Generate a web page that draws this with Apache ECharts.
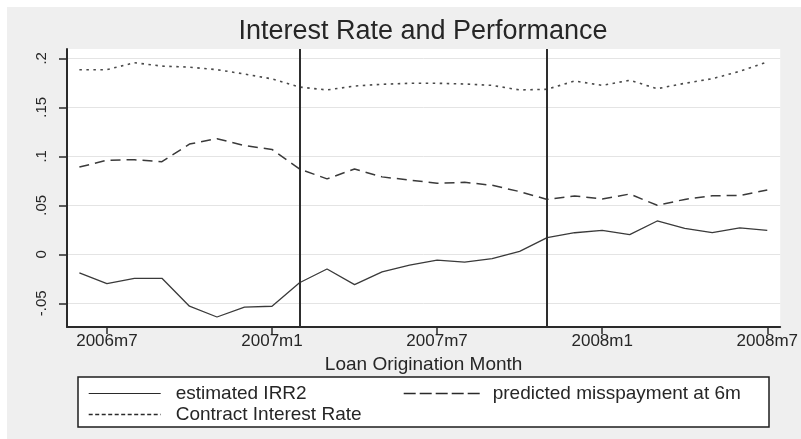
<!DOCTYPE html>
<html>
<head>
<meta charset="utf-8">
<script src="https://cdn.jsdelivr.net/npm/echarts@6.0.0/dist/echarts.min.js"></script>
<style>
  html, body { margin: 0; padding: 0; background: #ffffff; }
  #chart { width: 801px; height: 439px; }
</style>
</head>
<body>
<div id="chart"></div>
<script>
// Loan origination months, 2006m6 .. 2008m7
const months = [
  "2006m6", "2006m7", "2006m8", "2006m9", "2006m10", "2006m11", "2006m12",
  "2007m1", "2007m2", "2007m3", "2007m4", "2007m5", "2007m6", "2007m7",
  "2007m8", "2007m9", "2007m10", "2007m11", "2007m12",
  "2008m1", "2008m2", "2008m3", "2008m4", "2008m5", "2008m6", "2008m7"
];

const irr2 = [
  -0.019, -0.030, -0.0245, -0.0245, -0.053, -0.064, -0.054,
  -0.053, -0.029, -0.015, -0.031, -0.018, -0.011, -0.006,
  -0.008, -0.0045, 0.003, 0.017, 0.022,
  0.0245, 0.020, 0.034, 0.0265, 0.022, 0.027, 0.0245
];

const misspayment6m = [
  0.089, 0.096, 0.0965, 0.0945, 0.1125, 0.118, 0.111,
  0.107, 0.087, 0.077, 0.087, 0.079, 0.0758, 0.0724,
  0.0735, 0.0704, 0.064, 0.056, 0.0595,
  0.0564, 0.0615, 0.050, 0.056, 0.0598, 0.060, 0.0656
];

const contractRate = [
  0.1884, 0.1884, 0.1955, 0.192, 0.191, 0.1884, 0.184,
  0.179, 0.1707, 0.1677, 0.1717, 0.1735, 0.1745, 0.1745,
  0.1738, 0.1724, 0.1677, 0.1684, 0.1768,
  0.1724, 0.1776, 0.169, 0.1745, 0.1792, 0.1867, 0.1962
];

// Months marked with vertical reference lines
const eventMonths = ["2007m2", "2007m11"];

// Axis ticks and their labels
const xTickLabels = ["2006m7", "2007m1", "2007m7", "2008m1", "2008m7"];
const yTicks = [-0.05, 0, 0.05, 0.1, 0.15, 0.2];
const yTickLabels = ["-.05", "0", ".05", ".1", ".15", ".2"];

const seriesNames = ["estimated IRR2", "predicted misspayment at 6m", "Contract Interest Rate"];

// Stata-style monthly date: months since 1960m1
function monthNum(s) {
  const parts = s.split("m").map(Number);
  return (parts[0] - 1960) * 12 + parts[1] - 1;
}

const xTicks = xTickLabels.map(monthNum);
const pairs = (vals) => months.map((m, i) => [monthNum(m), vals[i]]);

const FONT = "'Liberation Sans', Arial, sans-serif";
const INK = "#262626";
// legend keys show only the line pattern, no marker
const noMarker = { opacity: 0, color: "transparent", borderWidth: 0 };

const chart = echarts.init(document.getElementById("chart"), null, { renderer: "canvas" });

chart.setOption({
  animation: false,
  backgroundColor: "#ffffff",
  textStyle: { fontFamily: FONT },
  title: {
    text: "Interest Rate and Performance",
    left: 423,
    top: 18,
    textAlign: "center",
    padding: 0,
    textStyle: { fontFamily: FONT, fontSize: 27, fontWeight: "normal", color: INK }
  },
  graphic: [
    {
      type: "rect",
      z: -5,
      silent: true,
      shape: { x: 7, y: 7, width: 794, height: 432 },
      style: { fill: "#efefef" }
    },
    {
      type: "rect",
      z: 1,
      silent: true,
      shape: { x: 78, y: 377, width: 691, height: 50 },
      style: { fill: "#ffffff", stroke: "#1e1e1e", lineWidth: 1.5 }
    }
  ],
  legend: [
    {
      z: 6,
      orient: "vertical",
      left: 88,
      top: 384,
      padding: 0,
      itemWidth: 72,
      itemHeight: 14,
      itemGap: 2,
      data: [
        { name: seriesNames[0], itemStyle: noMarker, lineStyle: { type: "solid", width: 1.2, color: "#2a2a2a" } },
        { name: seriesNames[2], itemStyle: noMarker, lineStyle: { type: [4, 2.5], width: 1.4, color: "#2a2a2a" } }
      ],
      textStyle: { fontFamily: FONT, fontSize: 19, color: INK, padding: [0, 0, 0, 10] }
    },
    {
      z: 6,
      orient: "horizontal",
      left: 403,
      top: 384,
      padding: 0,
      itemWidth: 77,
      itemHeight: 14,
      data: [
        { name: seriesNames[1], itemStyle: noMarker, lineStyle: { type: [12, 4], width: 1.4, color: "#2a2a2a" } }
      ],
      textStyle: { fontFamily: FONT, fontSize: 19, color: INK, padding: [0, 0, 0, 7] }
    }
  ],
  grid: {
    left: 67,
    right: 19,
    top: 49,
    bottom: 112,
    containLabel: false,
    show: true,
    backgroundColor: "#ffffff",
    borderWidth: 0
  },
  xAxis: {
    type: "value",
    min: 556.55,
    max: 582.47,
    name: "Loan Origination Month",
    nameLocation: "middle",
    nameGap: 22,
    nameTextStyle: { fontFamily: FONT, fontSize: 19, color: INK },
    axisLine: { show: true, onZero: false, lineStyle: { color: "#2a2a2a", width: 2 } },
    axisTick: { show: true, length: 7, customValues: xTicks, lineStyle: { color: "#2a2a2a", width: 1.5 } },
    axisLabel: {
      show: true,
      margin: 6,
      customValues: xTicks,
      fontFamily: FONT,
      fontSize: 17,
      color: INK,
      formatter: (v) => {
        const i = xTicks.findIndex((t) => Math.abs(t - v) < 1e-6);
        return i >= 0 ? xTickLabels[i] : "";
      }
    },
    splitLine: { show: false }
  },
  yAxis: {
    type: "value",
    min: -0.0742,
    max: 0.2095,
    axisLine: { show: true, onZero: false, lineStyle: { color: "#2a2a2a", width: 2 } },
    axisTick: { show: true, length: 8, customValues: yTicks, lineStyle: { color: "#2a2a2a", width: 1.5 } },
    axisLabel: {
      show: true,
      rotate: 90,
      margin: 18,
      customValues: yTicks,
      fontFamily: FONT,
      fontSize: 15,
      color: INK,
      formatter: (v) => {
        const i = yTicks.findIndex((t) => Math.abs(t - v) < 1e-9);
        return i >= 0 ? yTickLabels[i] : "";
      }
    },
    splitLine: { show: true, lineStyle: { color: "#e4e4e4", width: 1 } }
  },
  series: [
    {
      name: seriesNames[0],
      type: "line",
      data: pairs(irr2),
      symbol: "none",
      z: 3,
      lineStyle: { color: "#3a3a3a", width: 1.3, type: "solid" },
      itemStyle: { color: "#3a3a3a" },
      markLine: {
        silent: true,
        symbol: ["none", "none"],
        label: { show: false },
        lineStyle: { color: "#2e2e2e", width: 2, type: "solid" },
        data: eventMonths.map((m) => ({ xAxis: monthNum(m) }))
      }
    },
    {
      name: seriesNames[1],
      type: "line",
      data: pairs(misspayment6m),
      symbol: "none",
      z: 3,
      lineStyle: { color: "#3a3a3a", width: 1.5, type: [10, 6] },
      itemStyle: { color: "#3a3a3a" }
    },
    {
      name: seriesNames[2],
      type: "line",
      data: pairs(contractRate),
      symbol: "none",
      z: 3,
      lineStyle: { color: "#4a4a4a", width: 1.6, type: [2.5, 4.5] },
      itemStyle: { color: "#4a4a4a" }
    }
  ]
});
</script>
</body>
</html>
